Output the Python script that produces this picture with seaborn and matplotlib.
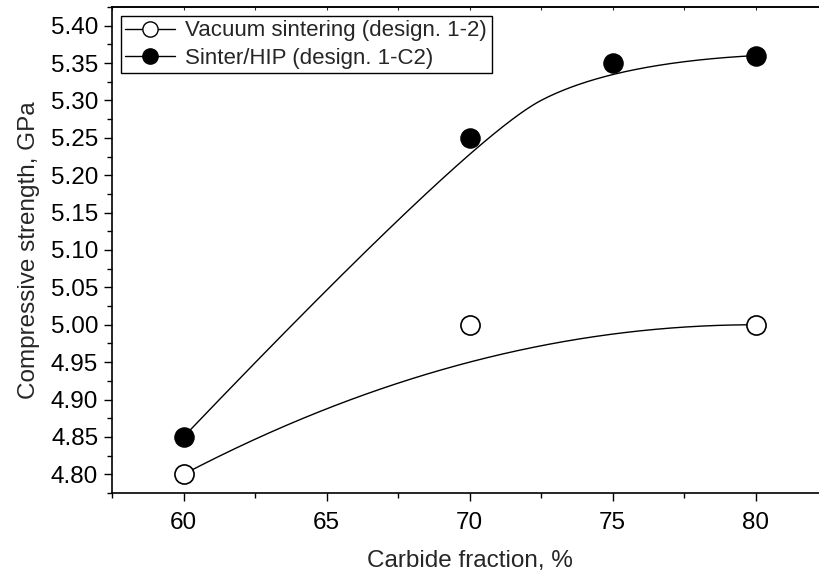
import numpy as np
import pandas as pd
import matplotlib
matplotlib.use("Agg")
import matplotlib.pyplot as plt
from matplotlib.lines import Line2D
import seaborn as sns

# Measured compressive strength (GPa) versus carbide fraction (%)
vacuum_fraction = [60, 70, 80]
vacuum_strength = [4.80, 5.00, 5.00]
hip_fraction = [60, 70, 75, 80]
hip_strength = [4.85, 5.25, 5.35, 5.36]

vacuum_label = "Vacuum sintering (design. 1-2)"
hip_label = "Sinter/HIP (design. 1-C2)"

x_ticks = [60, 65, 70, 75, 80]
y_ticks = [4.80, 4.85, 4.90, 4.95, 5.00, 5.05, 5.10, 5.15, 5.20, 5.25, 5.30, 5.35, 5.40]


def bspline_curve(xs, ys, degree=2, n=300):
    """Clamped B-spline that uses the data points as control points."""
    ctrl = np.column_stack([xs, ys]).astype(float)
    k = min(degree, len(ctrl) - 1)
    inner = np.linspace(0.0, 1.0, len(ctrl) - k + 1)
    knots = np.concatenate([np.zeros(k), inner, np.ones(k)])
    t = np.linspace(0.0, 1.0, n)
    m = len(knots) - 1
    B = np.zeros((n, m))
    for i in range(m):
        B[:, i] = (knots[i] <= t) & (t < knots[i + 1])
    last = np.nonzero(knots[:-1] < knots[1:])[0].max()
    B[t == knots[-1], last] = 1.0
    for p in range(1, k + 1):
        Bn = np.zeros((n, m - p))
        for i in range(m - p):
            d1 = knots[i + p] - knots[i]
            d2 = knots[i + p + 1] - knots[i + 1]
            term = np.zeros(n)
            if d1 > 0:
                term += (t - knots[i]) / d1 * B[:, i]
            if d2 > 0:
                term += (knots[i + p + 1] - t) / d2 * B[:, i + 1]
            Bn[:, i] = term
        B = Bn
    pts = B @ ctrl
    return pts[:, 0], pts[:, 1]


sns.set_style("ticks")
plt.rcParams["font.family"] = ["Liberation Sans", "DejaVu Sans"]
plt.rcParams["font.size"] = 17.5

fig = plt.figure(figsize=(8.19, 5.77), dpi=100)
ax = fig.add_axes([0.1368, 0.1456, 0.873, 0.8423])

vx, vy = bspline_curve(vacuum_fraction, vacuum_strength)
hx, hy = bspline_curve(hip_fraction, hip_strength)

sns.lineplot(x=vx, y=vy, ax=ax, color="black", lw=1.0, sort=False, estimator=None, zorder=2)
sns.lineplot(x=hx, y=hy, ax=ax, color="black", lw=1.0, sort=False, estimator=None, zorder=2)

vac_df = pd.DataFrame({"x": vacuum_fraction, "y": vacuum_strength})
hip_df = pd.DataFrame({"x": hip_fraction, "y": hip_strength})
sns.scatterplot(data=vac_df, x="x", y="y", ax=ax, s=190, marker="o",
                facecolor="white", edgecolor="black", linewidth=1.2, zorder=3)
sns.scatterplot(data=hip_df, x="x", y="y", ax=ax, s=190, marker="o",
                color="black", edgecolor="black", linewidth=1.0, zorder=3)

ax.set_xlim(57.5, 82.5)
ax.set_ylim(4.775, 5.425)
ax.set_xticks(x_ticks)
ax.set_yticks(y_ticks)
ax.set_xticklabels([str(v) for v in x_ticks])
ax.set_yticklabels([f"{v:.2f}" for v in y_ticks])
ax.set_xticks(np.arange(57.5, 82.6, 2.5), minor=True)
ax.set_yticks(np.arange(4.775, 5.43, 0.025), minor=True)

ax.tick_params(axis="both", which="major", direction="out", length=5.5, width=1.0,
               labelsize=17.5, color="black", labelcolor="black")
ax.tick_params(axis="both", which="minor", direction="out", length=3.5, width=1.0,
               color="black")
ax.tick_params(axis="x", which="major", pad=8)
ax.tick_params(axis="y", which="major", pad=4.5)

for side in ["left", "bottom", "top"]:
    ax.spines[side].set_visible(True)
    ax.spines[side].set_linewidth(1.2)
    ax.spines[side].set_color("black")
ax.spines["right"].set_visible(False)

# small inward marks along the top edge
top = ax.secondary_xaxis("top")
top.set_xticks(np.arange(57.5, 82.6, 2.5))
top.tick_params(axis="x", direction="in", length=2.5, width=0.8, labeltop=False)
top.spines["top"].set_linewidth(1.2)

ax.set_xlabel("Carbide fraction, %", fontsize=17.5, labelpad=12)
ax.set_ylabel("Compressive strength, GPa", fontsize=17.5, labelpad=8)

handles = [
    Line2D([], [], color="black", lw=1.0, marker="o", markersize=11,
           markerfacecolor="white", markeredgecolor="black", markeredgewidth=1.0),
    Line2D([], [], color="black", lw=1.0, marker="o", markersize=11,
           markerfacecolor="black", markeredgecolor="black"),
]
leg = ax.legend(handles, [vacuum_label, hip_label], loc="upper left",
                bbox_to_anchor=(0.0, 1.0), borderaxespad=0.4, frameon=True,
                fancybox=False, edgecolor="black", fontsize=16, handlelength=2.25,
                handletextpad=0.45, labelspacing=0.3, borderpad=0.2)
leg.get_frame().set_linewidth(1.0)
leg.get_frame().set_alpha(1.0)

fig.savefig("out.png", dpi=100)
